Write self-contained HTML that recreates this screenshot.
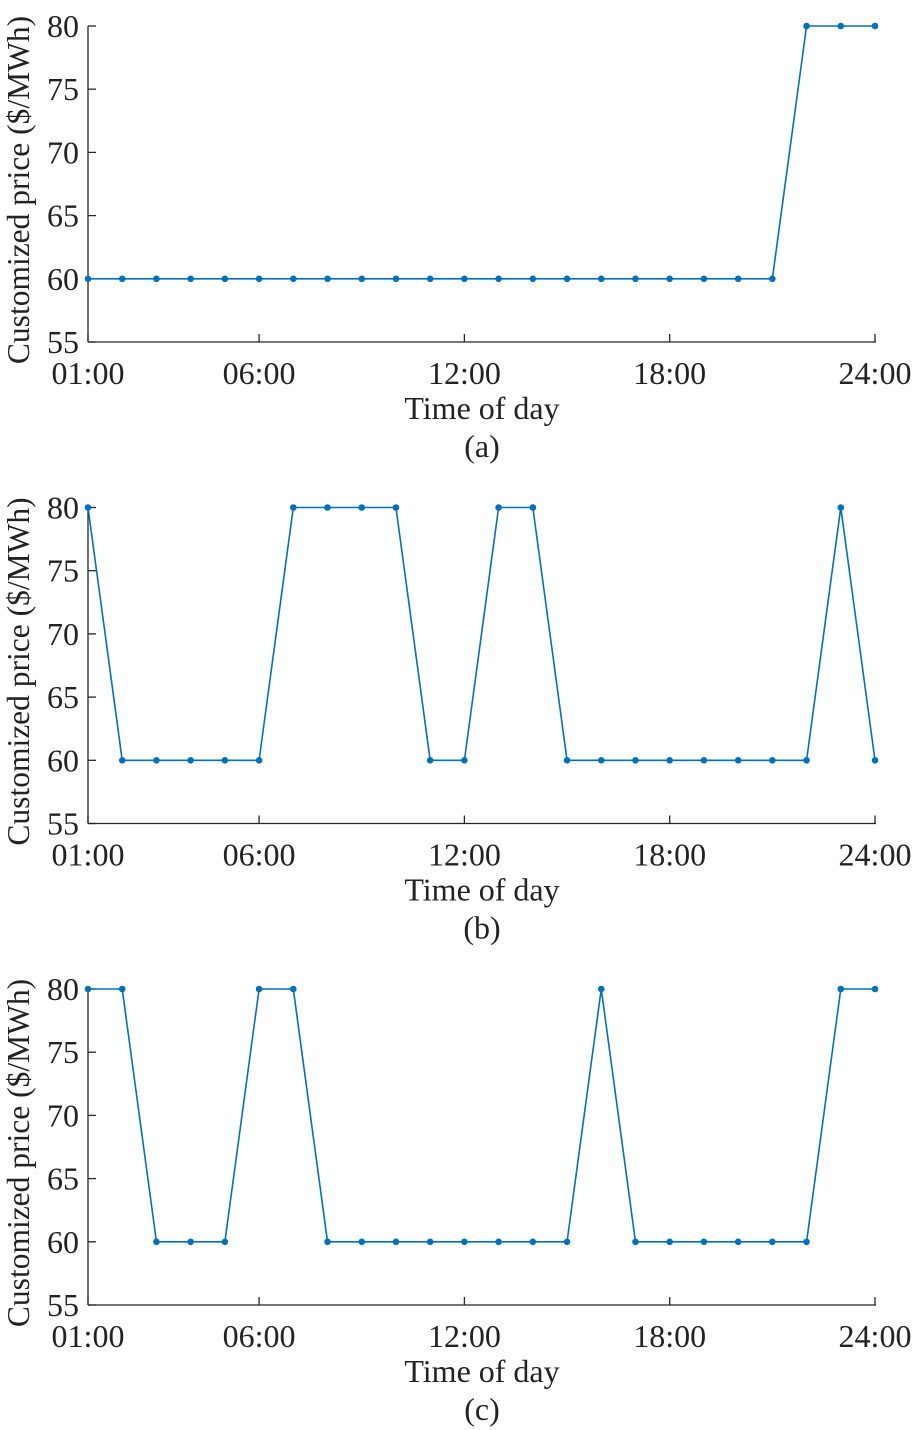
<!DOCTYPE html>
<html><head><meta charset="utf-8"><style>
html,body{margin:0;padding:0;background:#fff;}
svg{display:block;font-family:"Liberation Serif",serif;}
</style></head><body>
<svg id="s" width="913" height="1430" xmlns="http://www.w3.org/2000/svg"></svg>
<script>
const data=[
[60,60,60,60,60,60,60,60,60,60,60,60,60,60,60,60,60,60,60,60,60,80,80,80],
[80,60,60,60,60,60,80,80,80,80,60,60,80,80,60,60,60,60,60,60,60,60,80,60],
[80,80,60,60,60,80,80,60,60,60,60,60,60,60,60,80,60,60,60,60,60,60,80,80]];
const labs=["(a)","(b)","(c)"];
let h='';
const X=hr=>88+(hr-1)*787/23;
data.forEach((d,i)=>{
 const off=i*481.5;
 const Y=v=>342+off-(v-55)*12.64;
 const yb=342+off;
 h+=`<line x1="88" y1="${26+off}" x2="88" y2="${yb}" stroke="#262626" stroke-width="1.3"/>`;
 h+=`<line x1="88" y1="${yb}" x2="876" y2="${yb}" stroke="#262626" stroke-width="1.3"/>`;
 [55,60,65,70,75,80].forEach(v=>{
  h+=`<line x1="88" y1="${Y(v)}" x2="96" y2="${Y(v)}" stroke="#262626" stroke-width="1.3"/>`;
  h+=`<text x="79" y="${Y(v)+11}" font-size="32" text-anchor="end" fill="#222">${v}</text>`;
 });
 [[1,"01:00"],[6,"06:00"],[12,"12:00"],[18,"18:00"],[24,"24:00"]].forEach(([t,l])=>{
  h+=`<line x1="${X(t)}" y1="${yb}" x2="${X(t)}" y2="${yb-8}" stroke="#262626" stroke-width="1.3"/>`;
  h+=`<text x="${X(t)}" y="${yb+42}" font-size="32" text-anchor="middle" fill="#222">${l}</text>`;
 });
 h+=`<text x="482" y="${yb+77}" font-size="32" text-anchor="middle" fill="#222">Time of day</text>`;
 h+=`<text x="482" y="${yb+115}" font-size="32" text-anchor="middle" fill="#222">${labs[i]}</text>`;
 h+=`<text transform="translate(29,${190+off}) rotate(-90)" font-size="31.5" text-anchor="middle" fill="#222">Customized price ($/MWh)</text>`;
 h+=`<polyline fill="none" stroke="#0072BD" stroke-width="1.6" points="${d.map((v,k)=>X(k+1)+','+Y(v)).join(' ')}"/>`;
 d.forEach((v,k)=>h+=`<circle cx="${X(k+1)}" cy="${Y(v)}" r="3.3" fill="#0072BD"/>`);
});
document.getElementById('s').innerHTML=h;
</script>
</body></html>
